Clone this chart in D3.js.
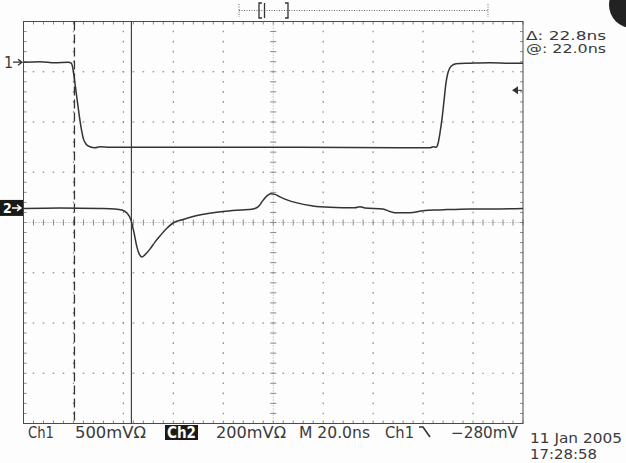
<!DOCTYPE html>
<html><head><meta charset="utf-8">
<script src="https://cdn.jsdelivr.net/npm/d3@7"></script>
<style>
body{margin:0;background:#fff}
svg{display:block}
text{font-family:"DejaVu Sans Condensed","DejaVu Sans",sans-serif;fill:#3a3a3a}
</style></head><body>
<svg id="c" width="626" height="463"></svg>
<script>
// ---- data (time in ns, voltage in mV) ----
const time1 = [-100,-93.4,-87.4,-82.1,-80.9,-80.1,-79.3,-78.5,-77.7,-76.9,-76.1,-74.9,-73.4,-71.4,-69.4,-65.4,-57.4,-29.3,10.7,50.7,62.8,64.0,65.2,66.0,66.8,67.6,68.4,69.2,70.0,71.2,73.2,78.8,86.8,94.8,100];
const ch1   = [0,5,-5,0,-10,-80,-229,-378,-527,-657,-756,-816,-841,-851,-841,-846,-846,-846,-846,-851,-851,-841,-846,-806,-697,-557,-378,-199,-100,-40,-15,-10,-5,-10,-10];
const time2 = [-100,-85.4,-69.4,-63.4,-60.6,-58.6,-57.0,-55.8,-54.6,-53.6,-52.6,-51.4,-49.3,-47.3,-45.3,-42.9,-40.1,-36.1,-32.1,-26.1,-20.1,-13.3,-8.1,-6.1,-4.1,-2.5,-0.9,0.7,2.7,5.5,8.7,15.9,22.7,32.7,34.7,36.7,43.9,46.7,48.7,54.7,60.0,66.8,78.8,90.8,100];
const ch2   = [-2,0,-2,-4,-8,-20,-48,-96,-155,-185,-195,-187,-163,-135,-111,-84,-60,-46,-34,-22,-14,-8,-4,4,30,48,56,54,44,32,22,8,3,1,5,0,-4,-14,-19,-19,-11,-8,-4,-4,-2];
const cursorTimes = [-79.6, -56.8];
const triggerLevel = -280;            // mV on Ch1
const ch1VoltsPerDiv = 500, ch2VoltsPerDiv = 200, nsPerDiv = 20;
const ch1GroundDiv = 3.19, ch2GroundDiv = 0.29;
const readouts = ["Δ: 22.8ns", "@: 22.0ns"];
const bottomLabels = ["Ch1", "500mVΩ", "Ch2", "200mVΩ", "M 20.0ns", "Ch1", "−280mV"];
const dateLabels = ["11 Jan 2005", "17:28:58"];

// ---- scales ----
const L = 23.5, R = 523, T = 21.5, B = 423.5;
const x = d3.scaleLinear().domain([-5*nsPerDiv, 5*nsPerDiv]).range([L, R]);
const yDiv = d3.scaleLinear().domain([-4, 4]).range([B, T]);
const y1 = v => yDiv(ch1GroundDiv + v / ch1VoltsPerDiv);
const y2 = v => yDiv(ch2GroundDiv + v / ch2VoltsPerDiv);
const svg = d3.select("#c");
svg.append("rect").attr("width",626).attr("height",463).attr("fill","#fdfdfd");

const g = svg.append("g");
const gridCol = "#8a8a8a";
const minor = d3.range(-25, 26).map(i => i * nsPerDiv / 5);   // x minor positions (ns)
const minorY = d3.range(-20, 21).map(i => i / 5);            // y minor positions (div)

// major dotted grid lines
[-3,-2,-1,1,2,3].forEach(d => {
  g.selectAll(null).data(minor.slice(1,-1)).enter().append("line")
    .attr("x1", t => x(t) - 0.8).attr("x2", t => x(t) + 0.8)
    .attr("y1", yDiv(d)).attr("y2", yDiv(d))
    .attr("stroke", gridCol).attr("stroke-width", 1.2);
});
[-4,-3,-2,-1,1,2,3,4].forEach(d => {
  g.selectAll(null).data(minorY.slice(1,-1)).enter().append("line")
    .attr("y1", v => yDiv(v) - 0.8).attr("y2", v => yDiv(v) + 0.8)
    .attr("x1", x(d*nsPerDiv)).attr("x2", x(d*nsPerDiv))
    .attr("stroke", gridCol).attr("stroke-width", 1.2);
});
// center lines
g.append("line").attr("x1", L).attr("x2", R).attr("y1", yDiv(0)).attr("y2", yDiv(0))
  .attr("stroke", "#a0a0a0").attr("stroke-dasharray", "1,2");
g.append("line").attr("y1", T).attr("y2", B).attr("x1", x(0)).attr("x2", x(0))
  .attr("stroke", "#a0a0a0").attr("stroke-dasharray", "1,2");
g.selectAll(null).data(minor).enter().append("line")
  .attr("x1", t => x(t)).attr("x2", t => x(t))
  .attr("y1", yDiv(0) - 3).attr("y2", yDiv(0) + 3).attr("stroke", gridCol);
g.selectAll(null).data(minorY).enter().append("line")
  .attr("y1", v => yDiv(v)).attr("y2", v => yDiv(v))
  .attr("x1", x(0) - 3).attr("x2", x(0) + 3).attr("stroke", gridCol);
// border ticks
g.selectAll(null).data(minor).enter().append("line")
  .attr("x1", t => x(t)).attr("x2", t => x(t)).attr("y1", T).attr("y2", T + 3).attr("stroke", gridCol);
g.selectAll(null).data(minor).enter().append("line")
  .attr("x1", t => x(t)).attr("x2", t => x(t)).attr("y1", B).attr("y2", B - 3).attr("stroke", gridCol);
g.selectAll(null).data(minorY).enter().append("line")
  .attr("y1", v => yDiv(v)).attr("y2", v => yDiv(v)).attr("x1", L).attr("x2", L + 3).attr("stroke", gridCol);
g.selectAll(null).data(minorY).enter().append("line")
  .attr("y1", v => yDiv(v)).attr("y2", v => yDiv(v)).attr("x1", R).attr("x2", R - 3).attr("stroke", gridCol);
// frame
g.append("rect").attr("x", L).attr("y", T).attr("width", R - L).attr("height", B - T)
  .attr("fill", "none").attr("stroke", "#4a4a4a").attr("stroke-width", 1);

// cursors
g.append("line").attr("x1", x(cursorTimes[0])).attr("x2", x(cursorTimes[0])).attr("y1", T).attr("y2", B)
  .attr("stroke", "#333").attr("stroke-width", 1.3).attr("stroke-dasharray", "9,4");
g.append("line").attr("x1", x(cursorTimes[1])).attr("x2", x(cursorTimes[1])).attr("y1", T).attr("y2", B)
  .attr("stroke", "#333").attr("stroke-width", 1.1);

// traces
const line1 = d3.line().x((d, i) => x(time1[i])).y(d => y1(d)).curve(d3.curveMonotoneX);
const line2 = d3.line().x((d, i) => x(time2[i])).y(d => y2(d)).curve(d3.curveMonotoneX);
g.append("path").attr("d", line1(ch1)).attr("fill", "none").attr("stroke", "#333").attr("stroke-width", 1.5);
g.append("path").attr("d", line2(ch2)).attr("fill", "none").attr("stroke", "#333").attr("stroke-width", 1.5);

// ground markers
const gy1 = y1(0), gy2 = y2(0);
svg.append("text").attr("x", 4).attr("y", gy1 + 6).attr("font-size", 16).text("1");
svg.append("path").attr("d", `M13,${gy1}H21M18,${gy1-3}L22,${gy1}L18,${gy1+3}`).attr("stroke", "#333").attr("fill", "none").attr("stroke-width", 1.3);
svg.append("rect").attr("x", 0).attr("y", gy2 - 8).attr("width", 23).attr("height", 16).attr("fill", "#1a1a1a");
svg.append("text").attr("x", 3).attr("y", gy2 + 5).attr("font-size", 14).attr("font-weight", "bold").style("fill", "#fff").text("2");
svg.append("path").attr("d", `M12,${gy2}H20M17,${gy2-3}L21,${gy2}L17,${gy2+3}`).attr("stroke", "#fff").attr("fill", "none").attr("stroke-width", 1.4);

// trigger level arrow
const ty = y1(triggerLevel);
svg.append("path").attr("d", `M512,${ty}L518,${ty-4}L518,${ty+4}Z`).attr("fill", "#333");
svg.append("line").attr("x1", 517).attr("x2", 522).attr("y1", ty).attr("y2", ty).attr("stroke", "#333");

// readouts
readouts.forEach((s, i) => {
  svg.append("text").attr("x", 526).attr("y", 39.5 + i * 13).attr("font-size", 12)
    .attr("textLength", 80).attr("lengthAdjust", "spacingAndGlyphs").text(s);
});

// header record bar
const hb = svg.append("g").attr("stroke", "#666").attr("fill", "none");
hb.append("line").attr("x1", 239).attr("x2", 488).attr("y1", 10.5).attr("y2", 10.5).attr("stroke-dasharray", "1,1.5");
hb.append("line").attr("x1", 239).attr("x2", 239).attr("y1", 4).attr("y2", 17).attr("stroke-dasharray", "1,1.5");
hb.append("line").attr("x1", 488).attr("x2", 488).attr("y1", 4).attr("y2", 17).attr("stroke-dasharray", "1,1.5");
hb.append("path").attr("d", "M262,3H259V18H262").attr("stroke", "#333").attr("stroke-width", 1.3);
hb.append("line").attr("x1", 264.5).attr("x2", 264.5).attr("y1", 3).attr("y2", 18).attr("stroke", "#333").attr("stroke-width", 1.3);
hb.append("path").attr("d", "M285,3H288V18H285").attr("stroke", "#333").attr("stroke-width", 1.3);
// dark blob top-right
svg.append("circle").attr("cx", 632).attr("cy", 5).attr("r", 23).attr("fill", "#222");

// bottom labels
const fs = 15.5, by = 437.5;
const lab = [
  {s: bottomLabels[0], x: 28, w: 26},
  {s: bottomLabels[1], x: 75, w: 71},
  {s: bottomLabels[3], x: 216, w: 70},
  {s: bottomLabels[4], x: 299, w: 71},
  {s: bottomLabels[5], x: 385, w: 29},
  {s: bottomLabels[6], x: 451, w: 67}
];
lab.forEach(d => svg.append("text").attr("x", d.x).attr("y", by).attr("font-size", fs)
  .attr("textLength", d.w).attr("lengthAdjust", "spacingAndGlyphs").text(d.s));
svg.append("rect").attr("x", 165).attr("y", 425).attr("width", 33).attr("height", 15).attr("fill", "#1a1a1a");
svg.append("text").attr("x", 167).attr("y", by).attr("font-size", fs).attr("font-weight", "bold")
  .attr("textLength", 29).attr("lengthAdjust", "spacingAndGlyphs").style("fill", "#fff").text(bottomLabels[2]);
// falling edge symbol
svg.append("path").attr("d", "M419,427H423L430,437").attr("stroke", "#333").attr("fill", "none").attr("stroke-width", 1.6);
// date
svg.append("text").attr("x", 530).attr("y", 443).attr("font-size", 14)
  .attr("textLength", 92).attr("lengthAdjust", "spacingAndGlyphs").text(dateLabels[0]);
svg.append("text").attr("x", 530).attr("y", 459).attr("font-size", 14)
  .attr("textLength", 67).attr("lengthAdjust", "spacingAndGlyphs").text(dateLabels[1]);
</script>
</body></html>
